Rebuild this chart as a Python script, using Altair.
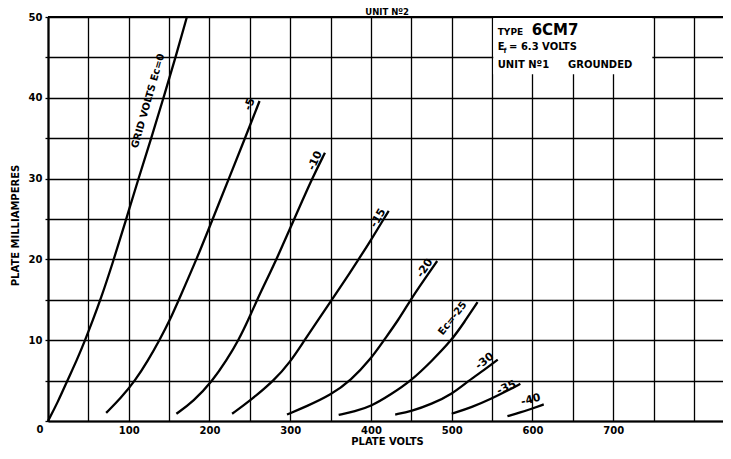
import altair as alt
import pandas as pd

# ---- characteristic curves (plate volts, plate mA) ----
grid_volts = [0, -5, -10, -15, -20, -25, -30, -35, -40]

ec0_v = [0, 12, 24, 36, 46, 56, 65, 80, 96, 112, 128, 143, 158, 172]
ec0_ma = [0, 2.3, 5, 7.6, 10, 12.6, 15, 19.5, 24.7, 30, 35, 40, 45, 50]

ec5_v = [72, 90, 108, 124, 138, 151, 162, 184, 204, 224, 244, 262]
ec5_ma = [1.0, 2.8, 5.0, 7.5, 10, 12.5, 15, 20, 25, 30, 35, 39.6]

ec10_v = [159, 180, 204, 221, 236, 248, 259, 271, 283, 305, 327, 343]
ec10_ma = [0.9, 2.4, 5, 7.5, 10, 12.5, 15, 17.5, 20, 25, 30, 33.2]

ec15_v = [228, 250, 280, 300, 317, 334, 350, 367, 384, 400, 414, 422]
ec15_ma = [0.9, 2.5, 5, 7.3, 9.9, 12.4, 14.8, 17.3, 19.9, 22.4, 24.7, 26]

ec20_v = [296, 320, 350, 375, 400, 416, 434, 449, 466, 482]
ec20_ma = [0.8, 1.8, 3.2, 5.0, 7.7, 10, 12.5, 15, 17.5, 19.8]

ec25_v = [360, 380, 400, 425, 450, 475, 500, 516, 532]
ec25_ma = [0.75, 1.2, 1.8, 3.3, 5, 7.4, 10, 12.3, 14.7]

ec30_v = [430, 450, 475, 500, 521, 540, 557]
ec30_ma = [0.8, 1.2, 2.1, 3.3, 5, 6.3, 7.6]

ec35_v = [500, 525, 550, 570, 585]
ec35_ma = [0.9, 1.7, 2.8, 3.8, 4.6]

ec40_v = [569, 585, 600, 614]
ec40_ma = [0.6, 1.05, 1.55, 2.05]

# ---- curve labels ----
ann_text = ["GRID VOLTS Ec=0", "-5", "-10", "-15", "-20", "Ec=-25", "-30", "-35", "-40"]
ann_v = [124, 250, 331, 409, 467, 501, 541, 568, 598]
ann_ma = [39.6, 39.2, 32.2, 25.1, 18.9, 12.7, 7.4, 4.1, 2.6]
ann_angle = [286, 290, 294, 300, 304, 308, 322, 335, 345]
ann_size = [10, 11, 11, 11, 11, 10, 11, 11, 11]

# ---- info box ----
box_text = ["TYPE", "6CM7", "E", "f", "= 6.3 VOLTS", "UNIT N\u00ba1", "GROUNDED"]
box_v = [557, 599, 557, 564, 571, 557, 644]
box_ma = [47.8, 47.8, 45.9, 45.6, 45.9, 43.7, 43.7]
box_size = [9, 15, 10, 7, 10, 10, 10]

X_MAX = 836

curve_sets = [ec0_v, ec5_v, ec10_v, ec15_v, ec20_v, ec25_v, ec30_v, ec35_v, ec40_v]
curve_mas = [ec0_ma, ec5_ma, ec10_ma, ec15_ma, ec20_ma, ec25_ma, ec30_ma, ec35_ma, ec40_ma]
rows = []
for ec, vs, ms in zip(grid_volts, curve_sets, curve_mas):
    for v, m in zip(vs, ms):
        rows.append({"ec": ec, "v": v, "ma": m})
curves_df = pd.DataFrame(rows)

ann_df = pd.DataFrame({"t": ann_text, "v": ann_v, "ma": ann_ma, "ang": ann_angle, "fs": ann_size})
box_df = pd.DataFrame({"t": box_text, "v": box_v, "ma": box_ma, "fs": box_size})
rect_df = pd.DataFrame({"v": [551.5], "v2": [748.5], "ma": [42.9], "ma2": [50]})
border_df = pd.DataFrame({"v": [0], "v2": [X_MAX], "ma": [50]})
title_df = pd.DataFrame({"t": ["UNIT N\u00ba2"], "v": [420], "ma": [50.3]})
zero_df = pd.DataFrame({"t": ["0"], "v": [-10], "ma": [-1.1]})

FONT = "DejaVu Sans"

x_enc = alt.X(
    "v:Q",
    scale=alt.Scale(domain=[0, X_MAX], nice=False, zero=False),
    axis=alt.Axis(
        values=list(range(0, 851, 50)),
        labelExpr="datum.value > 0 && datum.value <= 700 && datum.value % 100 == 0 ? datum.label : ''",
        title="PLATE VOLTS",
        titleX=339, titleY=20, titleAnchor="start", titleAlign="center", titleBaseline="middle",
        tickSize=0, labelPadding=4, labelFlush=False, labelOverlap=False,
    ),
)
y_enc = alt.Y(
    "ma:Q",
    scale=alt.Scale(domain=[0, 50], nice=False),
    axis=alt.Axis(
        values=list(range(0, 51, 5)),
        labelExpr="datum.value > 0 && datum.value % 10 == 0 ? datum.label : ''",
        title="PLATE MILLIAMPERES",
        titleX=-33, titleY=208, titleAngle=270, titleAlign="center", titleBaseline="middle",
        tickSize=3, labelPadding=3, labelFlush=False, labelOverlap=False,
    ),
)

lines = alt.Chart(curves_df).mark_line(
    color="black", strokeWidth=2.3, interpolate="basis"
).encode(x=x_enc, y=y_enc, detail="ec:N")

box = alt.Chart(rect_df).mark_rect(fill="white", stroke=None).encode(
    x=x_enc, x2="v2:Q", y=y_enc, y2="ma2:Q"
)

border = alt.Chart(border_df).mark_rule(color="black", strokeWidth=2.2).encode(
    x=x_enc, x2="v2:Q", y=y_enc
)

ann = alt.Chart(ann_df).mark_text(
    font=FONT, fontWeight="bold", color="black", align="center", baseline="middle"
).encode(
    x=x_enc, y=y_enc, text="t:N",
    angle=alt.Angle("ang:Q", scale=None),
    size=alt.Size("fs:Q", scale=None),
)

box_txt = alt.Chart(box_df).mark_text(
    font=FONT, fontWeight="bold", color="black", align="left", baseline="alphabetic"
).encode(
    x=x_enc, y=y_enc, text="t:N", size=alt.Size("fs:Q", scale=None)
)

title_txt = alt.Chart(title_df).mark_text(
    font=FONT, fontWeight="bold", color="black", align="center", baseline="alphabetic", fontSize=8.5
).encode(x=x_enc, y=y_enc, text="t:N")

zero_txt = alt.Chart(zero_df).mark_text(
    font=FONT, fontWeight="bold", color="black", align="center", baseline="middle", fontSize=10
).encode(x=x_enc, y=y_enc, text="t:N")

chart = alt.layer(box, lines, border, ann, box_txt, title_txt, zero_txt).properties(
    width=675,
    height=404,
    autosize=alt.AutoSizeParams(type="none"),
    padding={"left": 40, "top": 9, "right": 0, "bottom": 25},
).configure_view(stroke=None).configure_axis(
    grid=True, gridColor="black", gridWidth=1.3, gridOpacity=1,
    domainColor="black", domainWidth=2.2,
    tickColor="black", tickWidth=1.3,
    labelFont=FONT, labelFontWeight="bold", labelFontSize=10, labelColor="black",
    titleFont=FONT, titleFontWeight="bold", titleFontSize=10, titleColor="black",
)

chart.save("out.html", embed_options={"renderer": "svg", "actions": False})
